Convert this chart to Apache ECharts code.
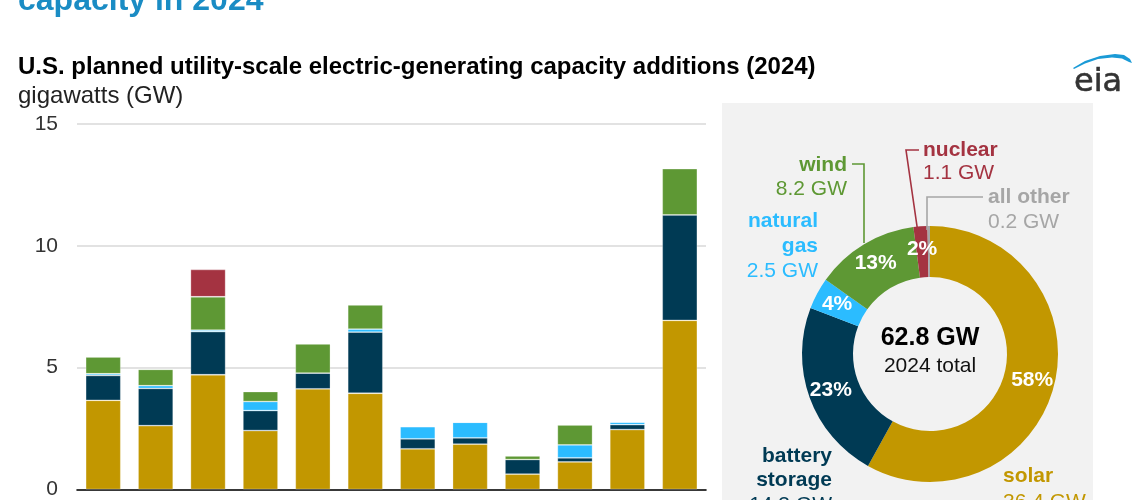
<!DOCTYPE html>
<html><head><meta charset="utf-8">
<script src="https://cdn.jsdelivr.net/npm/echarts@6/dist/echarts.min.js"></script>
<style>html,body{margin:0;padding:0;background:#fff}#c{width:1140px;height:500px}</style>
</head><body><div id="c"></div>
<script>
const months = ['Jan','Feb','Mar','Apr','May','Jun','Jul','Aug','Sep','Oct','Nov','Dec'];
const solar   = [3.66,2.62,4.71,2.42,4.13,3.95,1.67,1.86,0.63,1.13,2.46,6.94];
const battery = [1.02,1.53,1.77,0.82,0.65,2.51,0.41,0.26,0.60,0.17,0.20,4.33];
const gas     = [0.07,0.11,0.06,0.37,0.00,0.12,0.50,0.64,0.00,0.53,0.11,0.00];
const wind    = [0.69,0.67,1.37,0.41,1.20,1.00,0.00,0.00,0.15,0.82,0.00,1.90];
const nuclear = [0,0,1.12,0,0,0,0,0,0,0,0,0];
const yTicks = [0,5,10,15];
const pieNames = ['solar','battery storage','natural gas','wind','nuclear','all other'];
const pieValues = [36.4,14.3,2.5,8.2,1.1,0.2];
const totalLabel = '62.8 GW';

const COL = {solar:'#C29700', battery:'#003A54', gas:'#2BBCFF', wind:'#5E9834', nuclear:'#A43341', other:'#A6A6A6'};
const pieColors = [COL.solar, COL.battery, COL.gas, COL.wind, COL.nuclear, COL.other];
const FONT = 'Liberation Sans, Arial, sans-serif';
const pieTotal = pieValues.reduce((a,b)=>a+b,0);

const chart = echarts.init(document.getElementById('c'));
function barSeries(name, data, color){
  return {name, type:'bar', stack:'t', data, barCategoryGap:'33%',
    itemStyle:{color, borderColor:'rgba(255,255,255,0.35)', borderWidth:0.8}, silent:true};
}
const lbl = (x,y,text,color,bold,align)=>({type:'text', x, y, style:{text, fill:color, font:(bold?'bold ':'')+'21px '+FONT, textAlign:align, textVerticalAlign:'middle'}, z:10});
const line = (pts,color)=>({type:'polyline', shape:{points:pts}, style:{stroke:color, lineWidth:1.6, fill:null}, z:10});

chart.setOption({
  animation:false,
  grid:{left:77, right:434, top:124, bottom:10, containLabel:false},
  xAxis:{type:'category', data:months, axisLine:{lineStyle:{color:'#000', width:1.6}}, axisTick:{show:false}, axisLabel:{show:false}},
  yAxis:{type:'value', min:0, max:15, interval:5, axisLine:{show:false}, axisTick:{show:false},
    axisLabel:{fontFamily:FONT, fontSize:21, color:'#333', margin:19, formatter:v=>yTicks.includes(v)?String(v):''},
    splitLine:{lineStyle:{color:'#D9D9D9', width:1.5}}},
  series:[
    barSeries('solar', solar, COL.solar),
    barSeries('battery storage', battery, COL.battery),
    barSeries('natural gas', gas, COL.gas),
    barSeries('wind', wind, COL.wind),
    barSeries('nuclear', nuclear, COL.nuclear),
    {type:'pie', center:[930,354], radius:[77,128], startAngle:90, clockwise:true, silent:true,
      data:pieNames.map((n,i)=>({name:n, value:pieValues[i], itemStyle:{color:pieColors[i]}})),
      label:{position:'inside', color:'#fff', fontFamily:FONT, fontWeight:'bold', fontSize:21,
        formatter:p=>{const v=Math.round(p.value/pieTotal*100); return p.name==='all other'?'':v+'%';}},
      labelLine:{show:false}, z:5}
  ],
  graphic:[
    {type:'rect', shape:{x:722,y:103,width:371,height:400}, style:{fill:'#F2F2F2'}, z:-10},
    {type:'text', x:18, y:1, style:{text:'capacity in 2024', fill:'#1A8CC4', font:'bold 32px '+FONT, textVerticalAlign:'middle'}},
    {type:'text', x:18, y:67, style:{text:'U.S. planned utility-scale electric-generating capacity additions (2024)', fill:'#000', font:'bold 24px '+FONT, textVerticalAlign:'middle'}},
    {type:'text', x:18, y:96, style:{text:'gigawatts (GW)', fill:'#222', font:'24px '+FONT, textVerticalAlign:'middle'}},
    {type:'text', x:1074, y:83, style:{text:'eia', fill:'#333', font:'500 32px DejaVu Sans, sans-serif', textVerticalAlign:'middle', stroke:'#333', lineWidth:0.6}},
    {type:'polygon', shape:{points:[[1073,68],[1085,61],[1100,56],[1115,54],[1124,55],[1130,59],[1132,63],[1129,62],[1122,58.5],[1112,57.5],[1098,59],[1085,63.5],[1074,69]]}, style:{fill:'#1A9AD6'}},
    {type:'text', x:930, y:338, style:{text:totalLabel, fill:'#000', font:'bold 25px '+FONT, textAlign:'center', textVerticalAlign:'middle'}, z:10},
    {type:'text', x:930, y:366, style:{text:'2024 total', fill:'#111', font:'21px '+FONT, textAlign:'center', textVerticalAlign:'middle'}, z:10},
    lbl(847,165,'wind',COL.wind,true,'right'),
    lbl(847,189,'8.2 GW',COL.wind,false,'right'),
    line([[852,164],[864,164],[864,243]],COL.wind),
    lbl(923,150,'nuclear',COL.nuclear,true,'left'),
    lbl(923,173,'1.1 GW',COL.nuclear,false,'left'),
    line([[919,150],[906,150],[919,240]],COL.nuclear),
    lbl(988,197,'all other',COL.other,true,'left'),
    lbl(988,222,'0.2 GW',COL.other,false,'left'),
    line([[983,197],[927,197],[927,230]],COL.other),
    lbl(818,221,'natural',COL.gas,true,'right'),
    lbl(818,246,'gas',COL.gas,true,'right'),
    lbl(818,271,'2.5 GW',COL.gas,false,'right'),
    lbl(832,456,'battery',COL.battery,true,'right'),
    lbl(832,480,'storage',COL.battery,true,'right'),
    lbl(832,505,'14.3 GW',COL.battery,false,'right'),
    lbl(1003,476,'solar',COL.solar,true,'left'),
    lbl(1003,502,'36.4 GW',COL.solar,false,'left')
  ]
});
</script></body></html>
